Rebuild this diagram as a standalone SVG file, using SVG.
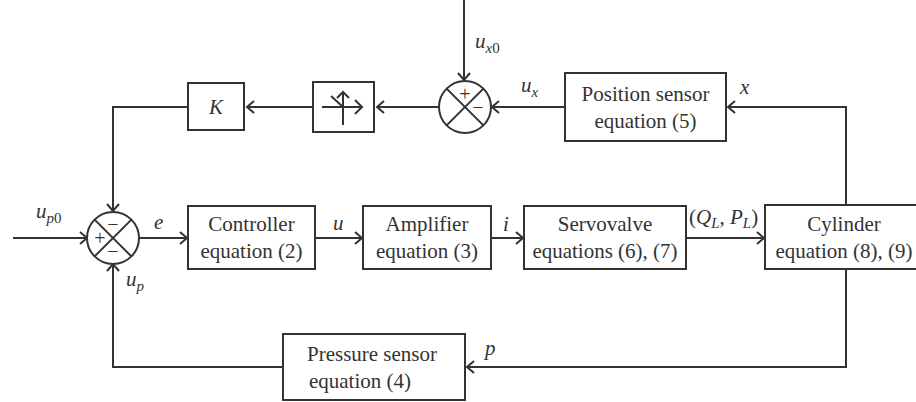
<svg xmlns="http://www.w3.org/2000/svg" width="916" height="402" viewBox="0 0 916 402">
<style>
.b{fill:#fff;stroke:#333;stroke-width:2}
.c{fill:none;stroke:#333;stroke-width:2}
.t{font-family:"Liberation Serif","Times New Roman",serif;font-size:21px;fill:#333;text-anchor:middle}
.l{font-family:"Liberation Serif","Times New Roman",serif;font-size:21px;font-style:italic;fill:#333}
.s{font-family:"Liberation Serif","Times New Roman",serif;font-size:20px;fill:#333;text-anchor:middle}
.sub{font-size:15px}
</style>
<defs>
<marker id="a" markerWidth="12" markerHeight="14" refX="10" refY="7" orient="auto" markerUnits="userSpaceOnUse">
<polyline points="3,1 10,7 3,13" fill="none" stroke="#333" stroke-width="2"/>
</marker>
</defs>
<g id="connectors">
<line class="c" x1="464" y1="0" x2="464" y2="80" marker-end="url(#a)"/>
<line class="c" x1="565" y1="107" x2="492" y2="107" marker-end="url(#a)"/>
<polyline class="c" points="846,205 846,107 728,107" marker-end="url(#a)"/>
<line class="c" x1="439" y1="107" x2="377" y2="107" marker-end="url(#a)"/>
<line class="c" x1="313" y1="107" x2="247" y2="107" marker-end="url(#a)"/>
<polyline class="c" points="188,107 113,107 113,211" marker-end="url(#a)"/>
<line class="c" x1="13" y1="238" x2="87" y2="238" marker-end="url(#a)"/>
<line class="c" x1="139" y1="238" x2="187" y2="238" marker-end="url(#a)"/>
<line class="c" x1="315" y1="238" x2="362" y2="238" marker-end="url(#a)"/>
<line class="c" x1="491" y1="238" x2="523" y2="238" marker-end="url(#a)"/>
<line class="c" x1="686" y1="238" x2="764" y2="238" marker-end="url(#a)"/>
<polyline class="c" points="846,269 846,367 467,367" marker-end="url(#a)"/>
<polyline class="c" points="283,367 113,367 113,264" marker-end="url(#a)"/>
</g>
<g id="labels">
<text class="l" x="475" y="48">u<tspan class="sub" dy="5">x</tspan><tspan class="sub" font-style="normal">0</tspan></text>
<text class="l" x="521" y="92">u<tspan class="sub" dy="5">x</tspan></text>
<text class="l" x="740" y="94">x</text>
<text class="l" x="36" y="218">u<tspan class="sub" dy="5">p</tspan><tspan class="sub" font-style="normal">0</tspan></text>
<text class="l" x="154" y="229">e</text>
<text class="l" x="333" y="230">u</text>
<text class="l" x="503" y="231">i</text>
<text class="l" x="689" y="224"><tspan font-style="normal">(</tspan>Q<tspan class="sub" dy="4">L</tspan><tspan dy="-4" font-style="normal">, </tspan>P<tspan class="sub" dy="4">L</tspan><tspan dy="-4" font-style="normal">)</tspan></text>
<text class="l" x="126" y="286">u<tspan class="sub" dy="5">p</tspan></text>
<text class="l" x="485" y="355">p</text>
</g>
<g id="sum_top">
<circle class="b" cx="465" cy="107" r="26"/>
<line class="c" x1="446.6" y1="88.6" x2="483.4" y2="125.4"/>
<line class="c" x1="483.4" y1="88.6" x2="446.6" y2="125.4"/>
<text class="s" x="465" y="101">+</text>
<text class="s" x="478" y="114">−</text>
</g>
<g id="sum_left">
<circle class="b" cx="113" cy="238" r="26"/>
<line class="c" x1="94.6" y1="219.6" x2="131.4" y2="256.4"/>
<line class="c" x1="131.4" y1="219.6" x2="94.6" y2="256.4"/>
<text class="s" x="113" y="231">−</text>
<text class="s" x="100" y="245">+</text>
<text class="s" x="113" y="258">−</text>
</g>
<g id="limiter">
<rect class="b" x="313" y="82" width="61" height="50"/>
<line class="c" x1="322" y1="107" x2="362" y2="107"/>
<polyline class="c" points="355,100 362,107 355,114"/>
<line class="c" x1="343" y1="92" x2="343" y2="125"/>
<polyline class="c" points="337,98 343,92 349,98"/>
<line class="c" x1="331" y1="96" x2="343" y2="107"/>
</g>
<g id="K">
<rect class="b" x="188" y="83" width="56" height="47"/>
<text class="l" x="216" y="114" text-anchor="middle">K</text>
</g>
<g id="position_sensor">
<rect class="b" x="565" y="73" width="161" height="68"/>
<text class="t" x="645.5" y="101">Position sensor</text>
<text class="t" x="645.5" y="128">equation (5)</text>
</g>
<g id="controller">
<rect class="b" x="188" y="206" width="127" height="63"/>
<text class="t" x="251.5" y="231">Controller</text>
<text class="t" x="251.5" y="258">equation (2)</text>
</g>
<g id="amplifier">
<rect class="b" x="363" y="206" width="128" height="63"/>
<text class="t" x="427" y="231">Amplifier</text>
<text class="t" x="427" y="258">equation (3)</text>
</g>
<g id="servovalve">
<rect class="b" x="524" y="206" width="162" height="63"/>
<text class="t" x="605" y="231">Servovalve</text>
<text class="t" x="605" y="258">equations (6), (7)</text>
</g>
<g id="cylinder">
<rect class="b" x="765" y="205" width="160" height="64"/>
<text class="t" x="844" y="231">Cylinder</text>
<text class="t" x="844" y="258">equation (8), (9)</text>
</g>
<g id="pressure_sensor">
<rect class="b" x="283" y="334" width="182" height="66"/>
<text class="t" x="372" y="361">Pressure sensor</text>
<text class="t" x="360" y="388">equation  (4)</text>
</g>
</svg>
